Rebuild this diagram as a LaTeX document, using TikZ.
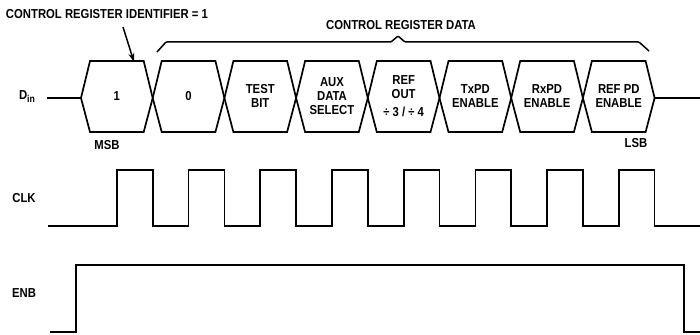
\documentclass[tikz,border=0pt]{standalone}
\usepackage{fontspec}
\setmainfont{Liberation Sans}[FakeStretch=0.87]
\usetikzlibrary{arrows.meta}
\tikzset{
  sig/.style={line width=1.7pt, line join=miter},
  lbl/.style={font=\fontsize{13}{14}\selectfont\bfseries, align=center, inner sep=0pt},
}
\begin{document}
\begin{tikzpicture}[x=1pt,y=-1pt]
\useasboundingbox (0,0) rectangle (700,334);

% headings
\node[lbl] (ident) at (107,14) {CONTROL REGISTER IDENTIFIER = 1};
\node[lbl] (data) at (401,25) {CONTROL REGISTER DATA};
\coordinate (idtail) at (123,27);
\coordinate (idhead) at (134,62);
\draw[line width=1.5pt,-{Stealth[length=9pt,width=6pt]}] (idtail) -- (idhead);
\draw[line width=1.5pt,rounded corners=1pt] (157,52) -- (166,42) -- (391,42) -- (398,36)
  -- (405,42) -- (639,42) -- (649,51);

% signal names
\node[lbl] (din) at (27,97) {D{\fontsize{10}{10}\selectfont\raisebox{-3pt}{in}}};
\node[lbl] (clk) at (24,198) {CLK};
\node[lbl] (enb) at (24,293) {ENB};

% D_in bus
\draw[sig] (47,98) -- (81,98);
\draw[sig] (654.6,98) -- (700,98);
\foreach \k in {0,...,7}
  \draw[sig] ({81+71.7*\k},98) -- ({90+71.7*\k},61) -- ({143.7+71.7*\k},61)
    -- ({152.7+71.7*\k},98) -- ({143.7+71.7*\k},132) -- ({90+71.7*\k},132) -- cycle;

\foreach \k/\txt in {0/1, 1/0, 2/{TEST\\BIT}, 3/{AUX\\DATA\\SELECT},
    4/{REF\\OUT\\[4pt]÷ 3 / ÷ 4}, 5/{TxPD\\ENABLE}, 6/{RxPD\\ENABLE},
    7/{REF PD\\ENABLE}}
  \node[lbl] (b\k) at ({116.85+71.7*\k},96) {\txt};

\node[lbl] (msb) at (107,145) {MSB};
\node[lbl] (lsb) at (636,143) {LSB};

% CLK
\draw[sig] (48,226)
  \foreach \k in {0,...,7} {
    -- ({116.85+71.7*\k},226) -- ({116.85+71.7*\k},170)
    -- ({152.7+71.7*\k},170) -- ({152.7+71.7*\k},226)
  } -- (700,226);

% ENB
\draw[sig] (50,332) -- (76,332) -- (76,265) -- (684,265) -- (684,332) -- (700,332);
\end{tikzpicture}
\end{document}
